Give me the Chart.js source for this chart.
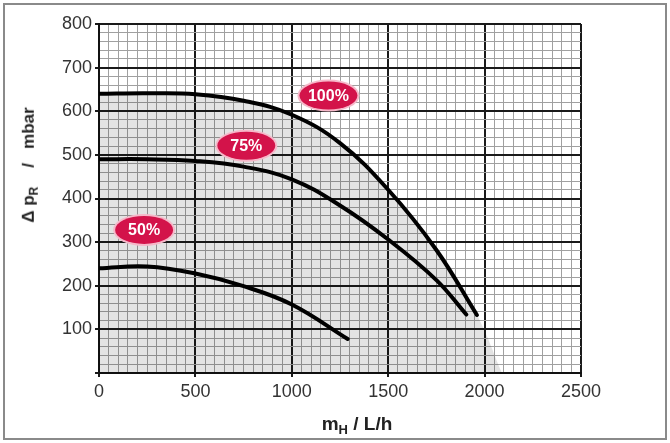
<!DOCTYPE html>
<html>
<head>
<meta charset="utf-8">
<script src="https://cdn.jsdelivr.net/npm/chart.js@4.4.1/dist/chart.umd.min.js"></script>
<style>
  body { margin: 0; background: #fff; }
  #wrap { position: relative; width: 670px; height: 443px; }
  .axis-title { position: absolute; font-family: "Liberation Sans", Arial, sans-serif; font-weight: bold; color: #222; white-space: pre; }
  #ytitle { font-size: 17px; left: 30px; top: 165px; transform: translate(-50%, -50%) rotate(-90deg); }
  #ytitle sub { font-size: 12px; }
  #xtitle { font-size: 19px; left: 357px; top: 425px; transform: translate(-50%, -50%); }
  #xtitle sub { font-size: 13px; }
</style>
</head>
<body>
<div id="wrap">
  <canvas id="pumpChart" width="670" height="443"></canvas>
  <div class="axis-title" id="ytitle">&Delta; p<sub>R</sub>    /   mbar</div>
  <div class="axis-title" id="xtitle">m<sub>H</sub> / L/h</div>
</div>
<script>
// curve data (flow in L/h, pressure in mbar)
const flow100 = [0, 250, 500, 750, 1000, 1250, 1500, 1750, 1960];
const dp100 = [640, 641, 639, 624, 592, 527, 420, 282, 133];

const flow75 = [0, 250, 500, 750, 1000, 1250, 1500, 1750, 1905];
const dp75 = [490, 490, 486, 473, 444, 384, 306, 213, 134];

const flow50 = [0, 250, 500, 750, 1000, 1290];
const dp50 = [240, 244, 228, 199, 157, 78];

// shaded working area: under the 100% curve, closing down to the x axis
const shadeFlow = flow100.concat([2090]);
const shadeDp = dp100.concat([0]);

// speed labels
const badgeText = ["100%", "75%", "50%"];
const badgeFlow = [1190, 764, 234];
const badgeDp = [636, 521, 328];

const xTicks = [0, 500, 1000, 1500, 2000, 2500];
const yTicks = [100, 200, 300, 400, 500, 600, 700, 800];

function toPoints(xs, ys) {
  return xs.map(function (v, i) { return { x: v, y: ys[i] }; });
}

// code for the red oval labels and the outer frame
const badgePlugin = {
  id: "badges",
  afterDatasetsDraw(chart) {
    const ctx = chart.ctx;
    const x = chart.scales.x;
    const y = chart.scales.y;
    badgeText.forEach(function (t, i) {
      const px = x.getPixelForValue(badgeFlow[i]);
      const py = y.getPixelForValue(badgeDp[i]);
      ctx.save();
      ctx.beginPath();
      ctx.ellipse(px, py, 31, 16, 0, 0, Math.PI * 2);
      ctx.fillStyle = "#f6b8c9";
      ctx.fill();
      ctx.beginPath();
      ctx.ellipse(px, py, 29, 14, 0, 0, Math.PI * 2);
      ctx.fillStyle = "#d3134a";
      ctx.fill();
      ctx.fillStyle = "#fff";
      ctx.font = 'bold 16px "Liberation Sans", Arial, sans-serif';
      ctx.textAlign = "center";
      ctx.textBaseline = "middle";
      ctx.fillText(t, px, py + 1);
      ctx.restore();
    });
  },
  afterDraw(chart) {
    const ctx = chart.ctx;
    ctx.save();
    ctx.strokeStyle = "#8a8a8a";
    ctx.lineWidth = 2;
    ctx.strokeRect(4, 4, 662, 435);
    ctx.restore();
  },
};

const curveStyle = {
  borderColor: "#000",
  borderWidth: 4,
  borderCapStyle: "round",
  pointRadius: 0,
  fill: false,
  tension: 0.4,
};

const ctx = document.getElementById("pumpChart").getContext("2d");
const pumpChart = new Chart(ctx, {
  type: "line",
  data: {
    datasets: [
      Object.assign({ label: "100%", data: toPoints(flow100, dp100) }, curveStyle),
      Object.assign({ label: "75%", data: toPoints(flow75, dp75) }, curveStyle),
      Object.assign({ label: "50%", data: toPoints(flow50, dp50) }, curveStyle),
      {
        label: "area",
        data: toPoints(shadeFlow, shadeDp),
        borderWidth: 0,
        borderColor: "rgba(0,0,0,0)",
        backgroundColor: "rgba(0,0,0,0.11)",
        pointRadius: 0,
        fill: "origin",
        tension: 0.4,
      },
    ],
  },
  options: {
    responsive: false,
    animation: false,
    layout: {
      padding: { left: 0, top: 24, right: 89, bottom: 0 },
    },
    scales: {
      x: {
        type: "linear",
        min: 0,
        max: 2500,
        afterFit: function (scale) { scale.height = 70; },
        border: { color: "#111", width: 2 },
        grid: {
          color: function (c) { return c.tick && c.tick.value % 500 === 0 ? "#1a1a1a" : "#a0a0a0"; },
          lineWidth: function (c) { return c.tick && c.tick.value % 500 === 0 ? 2 : 1; },
          tickLength: 4,
          tickColor: function (c) { return c.tick && c.tick.value % 500 === 0 ? "#1a1a1a" : "rgba(0,0,0,0)"; },
        },
        ticks: {
          stepSize: 50,
          autoSkip: false,
          maxRotation: 0,
          padding: 4,
          color: "#333",
          font: { family: "Liberation Sans", size: 18 },
          callback: function (value) { return xTicks.includes(value) ? value : ""; },
        },
      },
      y: {
        min: 0,
        max: 800,
        afterFit: function (scale) { scale.width = 99; },
        border: { color: "#111", width: 2 },
        grid: {
          color: function (c) { return c.tick && c.tick.value % 100 === 0 ? "#1a1a1a" : "#a0a0a0"; },
          lineWidth: function (c) { return c.tick && c.tick.value % 100 === 0 ? 2 : 1; },
          tickLength: 4,
          tickColor: function (c) { return c.tick && c.tick.value % 100 === 0 ? "#1a1a1a" : "rgba(0,0,0,0)"; },
        },
        ticks: {
          stepSize: 20,
          autoSkip: false,
          padding: 3,
          color: "#333",
          font: { family: "Liberation Sans", size: 18 },
          callback: function (value) { return yTicks.includes(value) ? value : ""; },
        },
      },
    },
    plugins: {
      legend: { display: false },
      tooltip: { enabled: false },
    },
  },
  plugins: [badgePlugin],
});
</script>
</body>
</html>
